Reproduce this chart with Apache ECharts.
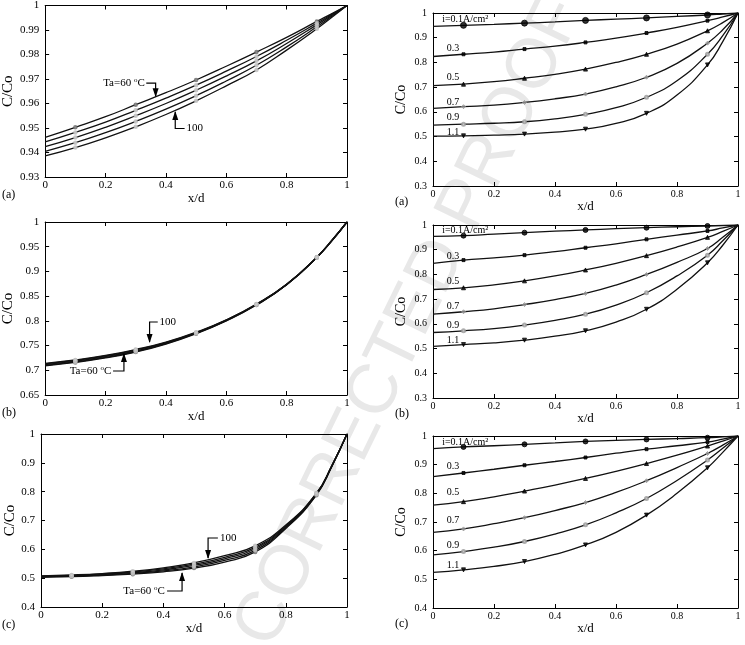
<!DOCTYPE html>
<html>
<head>
<meta charset="utf-8">
<script src="https://cdn.jsdelivr.net/npm/echarts@6/dist/echarts.min.js"></script>
<style>
html, body { margin: 0; padding: 0; background: #fff; }
#main { width: 745px; height: 645px; }
</style>
</head>
<body>
<div id="main"></div>
<script>
// x/d positions where the curves were read
var xs = [0, 0.1, 0.2, 0.3, 0.4, 0.5, 0.6, 0.7, 0.8, 0.9, 0.95, 1];
var markerXs = [0.1, 0.3, 0.5, 0.7, 0.9];

// left column: Ta = 60, 70, 80, 90, 100 C
var tempNames = ['60', '70', '80', '90', '100'];
var tempA = [
    [0.9462, 0.9503, 0.9546, 0.9595, 0.9644, 0.9696, 0.9752, 0.9810, 0.9870, 0.9935, 0.9967, 1],
    [0.9443, 0.9482, 0.9524, 0.9572, 0.9622, 0.9675, 0.9732, 0.9792, 0.9858, 0.9928, 0.9964, 1],
    [0.9424, 0.9461, 0.9503, 0.9550, 0.9600, 0.9654, 0.9712, 0.9774, 0.9845, 0.9921, 0.9960, 1],
    [0.9405, 0.9440, 0.9481, 0.9527, 0.9577, 0.9632, 0.9692, 0.9756, 0.9831, 0.9913, 0.9956, 1],
    [0.9386, 0.9420, 0.9460, 0.9505, 0.9555, 0.9611, 0.9672, 0.9737, 0.9818, 0.9905, 0.9952, 1]
];
var tempB = [
    [0.709, 0.716, 0.725, 0.737, 0.753, 0.774, 0.800, 0.832, 0.873, 0.928, 0.962, 1],
    [0.710, 0.717, 0.726, 0.738, 0.754, 0.775, 0.8005, 0.8325, 0.8733, 0.9283, 0.9623, 1],
    [0.7115, 0.7185, 0.7275, 0.7395, 0.755, 0.7755, 0.801, 0.833, 0.8735, 0.9285, 0.9625, 1],
    [0.713, 0.720, 0.729, 0.741, 0.756, 0.776, 0.8015, 0.8335, 0.8738, 0.9288, 0.9628, 1],
    [0.714, 0.721, 0.730, 0.742, 0.757, 0.777, 0.802, 0.834, 0.874, 0.929, 0.963, 1]
];
var tempC = [
    [0.503, 0.505, 0.509, 0.514, 0.522, 0.535, 0.556, 0.591, 0.672, 0.788, 0.886, 1],
    [0.5045, 0.5065, 0.5105, 0.5165, 0.5255, 0.5395, 0.5615, 0.5965, 0.675, 0.790, 0.887, 1],
    [0.506, 0.508, 0.5125, 0.519, 0.529, 0.544, 0.567, 0.602, 0.678, 0.792, 0.888, 1],
    [0.507, 0.5095, 0.5145, 0.5215, 0.5325, 0.5485, 0.5725, 0.607, 0.681, 0.7935, 0.889, 1],
    [0.508, 0.511, 0.516, 0.524, 0.536, 0.553, 0.578, 0.612, 0.684, 0.795, 0.890, 1]
];

// right column: i = 0.1 ... 1.1 A/cm2
var currentNames = ['i=0.1A/cm²', '0.3', '0.5', '0.7', '0.9', '1.1'];
var curA = [
    [0.946, 0.950, 0.954, 0.959, 0.964, 0.970, 0.975, 0.980, 0.986, 0.992, 0.996, 1],
    [0.824, 0.833, 0.842, 0.854, 0.866, 0.881, 0.898, 0.919, 0.942, 0.969, 0.984, 1],
    [0.706, 0.712, 0.722, 0.736, 0.752, 0.773, 0.800, 0.833, 0.874, 0.928, 0.961, 1],
    [0.614, 0.621, 0.627, 0.638, 0.653, 0.672, 0.701, 0.740, 0.796, 0.878, 0.932, 1],
    [0.546, 0.550, 0.554, 0.560, 0.572, 0.590, 0.617, 0.659, 0.726, 0.833, 0.908, 1],
    [0.502, 0.503, 0.506, 0.510, 0.518, 0.530, 0.553, 0.594, 0.668, 0.790, 0.884, 1]
];
var curB = [
    [0.954, 0.957, 0.963, 0.969, 0.975, 0.980, 0.985, 0.989, 0.993, 0.996, 0.998, 1],
    [0.845, 0.858, 0.867, 0.878, 0.892, 0.908, 0.924, 0.942, 0.959, 0.976, 0.988, 1],
    [0.739, 0.746, 0.758, 0.774, 0.794, 0.818, 0.845, 0.876, 0.911, 0.950, 0.974, 1],
    [0.639, 0.649, 0.661, 0.678, 0.698, 0.723, 0.757, 0.800, 0.849, 0.905, 0.950, 1],
    [0.565, 0.572, 0.581, 0.595, 0.614, 0.639, 0.676, 0.726, 0.794, 0.878, 0.936, 1],
    [0.509, 0.516, 0.523, 0.534, 0.550, 0.572, 0.607, 0.659, 0.740, 0.847, 0.918, 1]
];
var curC = [
    [0.956, 0.962, 0.966, 0.971, 0.976, 0.981, 0.985, 0.988, 0.991, 0.994, 0.997, 1],
    [0.858, 0.871, 0.884, 0.898, 0.911, 0.925, 0.940, 0.954, 0.966, 0.979, 0.989, 1],
    [0.759, 0.771, 0.788, 0.808, 0.829, 0.852, 0.877, 0.904, 0.933, 0.965, 0.982, 1],
    [0.664, 0.676, 0.694, 0.715, 0.740, 0.768, 0.803, 0.844, 0.890, 0.939, 0.968, 1],
    [0.585, 0.597, 0.612, 0.632, 0.658, 0.690, 0.732, 0.782, 0.845, 0.916, 0.957, 1],
    [0.524, 0.533, 0.545, 0.562, 0.587, 0.620, 0.664, 0.724, 0.800, 0.889, 0.943, 1]
];

var FONT = 'Liberation Serif';

// marker look for each current density curve
var curSymbols = [
    { symbol: 'circle', size: 5, color: '#000' },
    { symbol: 'rect', size: 3, color: '#000' },
    { symbol: 'triangle', size: 4, color: '#000' },
    { symbol: 'diamond', size: 4, color: '#999' },
    { symbol: 'emptyCircle', size: 3, color: '#999' },
    { symbol: 'triangle', size: 4, color: '#000', rotate: 180 }
];

var panels = [
    { left: 41, top: 4, width: 306, height: 173, ymin: 0.93, ymax: 1, yint: 0.01, sets: tempA, kind: 't', tag: '(a)', fs: 11,
      ann: { ta: [0.330, 0.9683], taLine: [[0.335, 0.9683], [0.366, 0.9683], [0.366, 0.9630]],
             hi: [0.468, 0.9498], hiLine: [[0.462, 0.9498], [0.431, 0.9498], [0.431, 0.9565]] } },
    { left: 433, top: 13, width: 305, height: 173, ymin: 0.3, ymax: 1, yint: 0.1, sets: curA, kind: 'i', tag: '(a)', fs: 10,
      bigFirst: true, labY: [0.973, 0.858, 0.741, 0.640, 0.579, 0.518] },
    { left: 41, top: 222, width: 306, height: 173, ymin: 0.65, ymax: 1, yint: 0.05, sets: tempB, kind: 't', tag: '(b)', fs: 11,
      ann: { ta: [0.219, 0.6986], taLine: [[0.225, 0.6986], [0.261, 0.6986], [0.261, 0.733]],
             hi: [0.379, 0.7977], hiLine: [[0.373, 0.7977], [0.346, 0.7977], [0.346, 0.7572]] } },
    { left: 433, top: 225, width: 305, height: 173, ymin: 0.3, ymax: 1, yint: 0.1, sets: curB, kind: 'i', tag: '(b)', fs: 10,
      labY: [0.980, 0.875, 0.771, 0.672, 0.595, 0.535] },
    { left: 41, top: 434, width: 306, height: 173, ymin: 0.4, ymax: 1, yint: 0.1, sets: tempC, kind: 't', tag: '(c)', fs: 11,
      ann: { ta: [0.405, 0.4555], taLine: [[0.412, 0.4555], [0.461, 0.4555], [0.461, 0.518]],
             hi: [0.585, 0.6393], hiLine: [[0.578, 0.6393], [0.546, 0.6393], [0.546, 0.570]] } },
    { left: 433, top: 436, width: 305, height: 172, ymin: 0.4, ymax: 1, yint: 0.1, sets: curC, kind: 'i', tag: '(c)', fs: 10,
      labY: [0.977, 0.895, 0.802, 0.707, 0.620, 0.550] }
];

var grid = [], xAxis = [], yAxis = [], series = [];
var axisLine = { show: true, onZero: false, lineStyle: { color: '#000', width: 1 } };
var tickIn = { show: true, inside: true, length: 4, lineStyle: { color: '#000' } };

panels.forEach(function (p, k) {
    grid.push({ left: p.left, top: p.top, width: p.width, height: p.height });
    var isLeft = p.kind === 't';
    xAxis.push({
        type: 'value', gridIndex: k, position: 'bottom', min: 0, max: 1, interval: 0.2,
        name: 'x/d', nameLocation: 'middle', nameGap: isLeft ? 10 : 8,
        nameTextStyle: { fontFamily: FONT, fontSize: 13, color: '#000' },
        axisLine: axisLine, axisTick: tickIn, splitLine: { show: false },
        axisLabel: { fontFamily: FONT, fontSize: p.fs, color: '#000', margin: 3 }
    });
    xAxis.push({
        type: 'value', gridIndex: k, position: 'top', min: 0, max: 1, interval: 0.2,
        axisLine: axisLine, axisTick: tickIn, splitLine: { show: false }, axisLabel: { show: false }
    });
    yAxis.push({
        type: 'value', gridIndex: k, position: 'left', min: p.ymin, max: p.ymax, interval: p.yint,
        name: 'C/Co', nameLocation: 'middle', nameGap: isLeft ? 22 : 25,
        nameTextStyle: { fontFamily: FONT, fontSize: isLeft ? 15 : 14, color: '#000' },
        axisLine: axisLine, axisTick: tickIn, splitLine: { show: false },
        axisLabel: { fontFamily: FONT, fontSize: p.fs, color: '#000', margin: 6 }
    });
    yAxis.push({
        type: 'value', gridIndex: k, position: 'right', min: p.ymin, max: p.ymax, interval: p.yint,
        axisLine: axisLine, axisTick: tickIn, splitLine: { show: false }, axisLabel: { show: false }
    });
    p.firstSeries = series.length;
    p.sets.forEach(function (ys, j) {
        var pts = xs.map(function (x, i) { return [x, ys[i]]; });
        series.push({
            type: 'line', xAxisIndex: 2 * k, yAxisIndex: 2 * k,
            data: pts, smooth: true, showSymbol: false, silent: true,
            lineStyle: { color: '#111', width: 1.3 }, z: 3
        });
        var marks = pts.filter(function (q) { return markerXs.indexOf(q[0]) >= 0; });
        var s = isLeft ? { symbol: 'emptyCircle', size: 2.5, color: j === 0 ? '#666' : '#bbb' } : curSymbols[j];
        var size = (p.bigFirst && j === 0) ? 6 : s.size;
        series.push({
            type: 'scatter', xAxisIndex: 2 * k, yAxisIndex: 2 * k, data: marks, silent: true,
            symbol: s.symbol, symbolSize: size, symbolRotate: s.rotate || 0,
            itemStyle: { color: s.color, borderColor: s.color, borderWidth: isLeft ? 0.8 : 1 }, z: 4
        });
    });
});

var chart = echarts.init(document.getElementById('main'));
chart.setOption({
    backgroundColor: '#fff',
    animation: false,
    grid: grid, xAxis: xAxis, yAxis: yAxis, series: series
});

// annotations, placed from data coordinates
function px(p, v) { return chart.convertToPixel({ seriesIndex: p.firstSeries }, v); }
function arrow(p, pts) {
    var q = pts.map(function (v) { return px(p, v); });
    var a = q[q.length - 1], b = q[q.length - 2];
    var d = a[1] > b[1] ? 1 : -1;
    return [
        { type: 'polyline', shape: { points: q }, style: { stroke: '#000', lineWidth: 1.2, fill: 'none' }, z: 10 },
        { type: 'polygon', shape: { points: [[a[0], a[1] + d], [a[0] - 3, a[1] - d * 8], [a[0] + 3, a[1] - d * 8]] },
          style: { fill: '#000' }, z: 10 }
    ];
}
var rich = { sup: { fontFamily: FONT, fontSize: 7, verticalAlign: 'top', padding: [0, 0, 6, 0] } };
var gfx = [{
    type: 'text', x: 410, y: 322, rotation: 64 * Math.PI / 180, z: -10, silent: true,
    style: { text: 'CORRECTED PROOF', font: '70px "Liberation Sans"', fill: '#e8e8e8', align: 'center', verticalAlign: 'middle' }
}];
panels.forEach(function (p) {
    var bottom = p.top + p.height;
    gfx.push({
        type: 'text', x: p.kind === 't' ? 2 : 395, y: bottom + (p.kind === 't' ? 18 : 16), z: 10,
        style: { text: p.tag, font: '12px "' + FONT + '"', fill: '#000', verticalAlign: 'middle' }
    });
    if (p.kind === 't') {
        var t = px(p, p.ann.ta), h = px(p, p.ann.hi);
        gfx.push({ type: 'text', x: t[0], y: t[1], z: 10,
            style: { text: 'Ta=60 {sup|o}C', rich: rich, font: '11px "' + FONT + '"', fill: '#000', align: 'right', verticalAlign: 'middle' } });
        gfx.push({ type: 'text', x: h[0], y: h[1], z: 10,
            style: { text: '100', font: '11px "' + FONT + '"', fill: '#000', align: 'left', verticalAlign: 'middle' } });
        gfx = gfx.concat(arrow(p, p.ann.taLine), arrow(p, p.ann.hiLine));
    } else {
        currentNames.forEach(function (n, j) {
            var c = px(p, [j === 0 ? 0.03 : 0.045, p.labY[j]]);
            gfx.push({ type: 'text', x: c[0], y: c[1], z: 10,
                style: { text: n, font: '10px "' + FONT + '"', fill: '#000', align: 'left', verticalAlign: 'middle' } });
        });
    }
});
chart.setOption({ graphic: gfx });
</script>
</body>
</html>
